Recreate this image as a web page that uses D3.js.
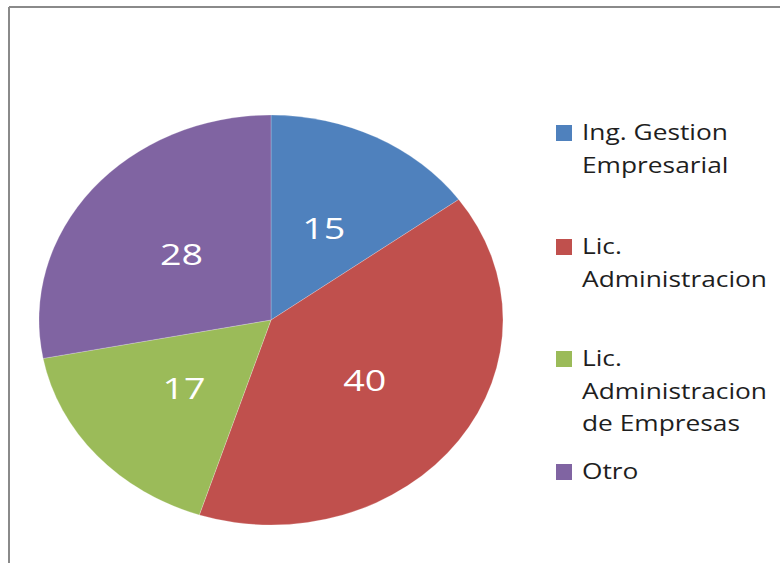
<!DOCTYPE html>
<html><head><meta charset="utf-8">
<script src="https://cdn.jsdelivr.net/npm/d3@7"></script>
<style>body{margin:0;background:#fff}svg{display:block}</style>
</head><body>
<svg id="c" width="780" height="563"></svg>
<script>
const categories = ["Ing. Gestion Empresarial", "Lic. Administracion", "Lic. Administracion de Empresas", "Otro"];
const legendLines = [["Ing. Gestion", "Empresarial"], ["Lic.", "Administracion"], ["Lic.", "Administracion", "de Empresas"], ["Otro"]];
const values = [15, 40, 17, 28];
const colors = ["#4F81BD", "#C0504D", "#9BBB59", "#8064A2"];

const svg = d3.select("#c");
const W = 780, H = 563;
// frame (only top and left visible)
svg.append("line").attr("x1", 9).attr("x2", W).attr("y1", 7).attr("y2", 7).attr("stroke", "#8a8a8a").attr("stroke-width", 2);
svg.append("line").attr("x1", 9).attr("x2", 9).attr("y1", 7).attr("y2", H).attr("stroke", "#8a8a8a").attr("stroke-width", 2);

const cx = 271, cy = 320, rx = 232, ry = 205;
const pie = d3.pie().sort(null).value(d => d)(values);
const arc = d3.arc().innerRadius(0).outerRadius(ry);
const g = svg.append("g").attr("transform", `translate(${cx},${cy}) scale(${rx/ry},1)`);
g.selectAll("path").data(pie).join("path")
  .attr("d", arc)
  .attr("fill", (d, i) => colors[i])
  .attr("stroke", "rgba(255,255,255,0.35)").attr("stroke-width", 0.6);

const font = "'Open Sans', sans-serif";
const fs = 22;
const probe = svg.append("text").attr("font-family", font).attr("font-size", fs).text("Administracion");
const stretch = 185 / probe.node().getComputedTextLength();
probe.remove();

const labelArc = d3.arc().innerRadius(ry * 0.5).outerRadius(ry * 0.5);
pie.forEach((d, i) => {
  const [x, y] = labelArc.centroid(d);
  svg.append("text")
    .attr("transform", `translate(${cx + x * rx / ry},${cy + y}) scale(${stretch * 1.05},1)`)
    .attr("text-anchor", "middle").attr("dy", "0.36em")
    .attr("font-family", font).attr("font-size", 30)
    .attr("fill", "#fff").text(values[i]);
});

// legend
const legendTop = [140, 254, 366, 479];
const lineH = 32.5;
const lg = svg.append("g");
legendLines.forEach((lines, i) => {
  const y0 = legendTop[i];
  lg.append("rect").attr("x", 556).attr("y", y0 - 15).attr("width", 16).attr("height", 16).attr("fill", colors[i]);
  lines.forEach((t, j) => {
    lg.append("text")
      .attr("transform", `translate(582,${y0 + j * lineH}) scale(${stretch},1)`)
      .attr("font-family", font).attr("font-size", fs).attr("fill", "#1e1e1e")
      .text(t);
  });
});
</script>
</body></html>
